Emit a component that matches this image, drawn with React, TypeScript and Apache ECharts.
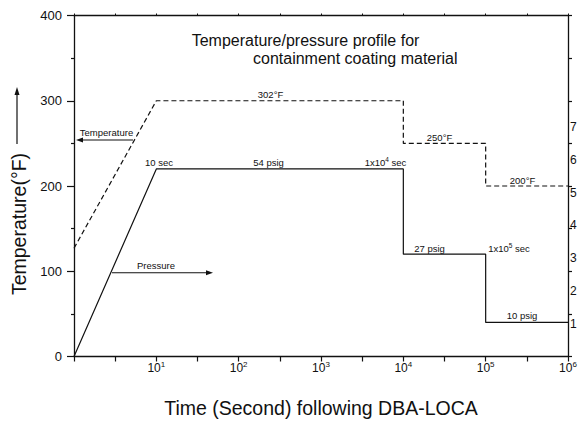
import React, { useEffect, useRef } from 'react';
import * as echarts from 'echarts';

// ---- data ----
const tempTime = [1, 10, 1e4, 1e4, 1e5, 1e5, 1e6];
const tempValues = [127, 300, 300, 250, 250, 200, 200];
const pressTime = [1, 10, 1e4, 1e4, 1e5, 1e5, 1e6];
const pressValues = [0, 220, 220, 120, 120, 40, 40];
const rightLabels = [1, 2, 3, 4, 5, 6, 7];

const FONT = 'Liberation Sans, Arial, Helvetica, sans-serif';
const INK = '#111';

const supRich = {
  b: { fontSize: 12, lineHeight: 14, fontFamily: FONT, color: INK },
  s: { fontSize: 8, lineHeight: 8, verticalAlign: 'top' as const, fontFamily: FONT, color: INK },
};
const annRich = {
  b: { fontSize: 9.5, lineHeight: 12, fontFamily: FONT, color: INK },
  s: { fontSize: 6.5, lineHeight: 6, verticalAlign: 'top' as const, fontFamily: FONT, color: INK },
};

function ann(text: string, x: number, y: number, rich = false) {
  return {
    type: 'text',
    x,
    y,
    style: rich
      ? { text, rich: annRich, align: 'center', verticalAlign: 'middle', fill: INK }
      : { text, font: `9.5px ${FONT}`, fill: INK, align: 'center', verticalAlign: 'middle' },
    silent: true,
  };
}

export default function App() {
  const ref = useRef<HTMLDivElement>(null);
  useEffect(() => {
    if (!ref.current) return;
    const chart = echarts.init(ref.current, undefined, { renderer: 'svg' });
    const lineStyleAxis = { color: INK, width: 1.3 };
    const option: any = {
      animation: false,
      backgroundColor: '#fff',
      textStyle: { fontFamily: FONT },
      grid: { left: 74, right: 13, top: 15.5, bottom: 64.5, containLabel: false, outerBoundsMode: 'none' },
      xAxis: [
        {
          type: 'log',
          logBase: 10,
          min: 1,
          max: 1e6,
          splitNumber: 6,
          position: 'bottom',
          axisLine: { show: true, onZero: false, lineStyle: lineStyleAxis },
          axisTick: { show: false },
          splitLine: { show: false },
          axisLabel: {
            margin: 4,
            formatter: (v: number) => {
              const e = Math.round(Math.log10(v));
              return e === 0 ? '' : `{b|10}{s|${e}}`;
            },
            rich: supRich,
          },
          name: 'Time (Second) following DBA-LOCA',
          nameLocation: 'middle',
          nameGap: 41,
          nameTextStyle: { fontSize: 19.5, color: INK, fontFamily: FONT },
        },
        {
          type: 'value',
          min: 0,
          max: 6,
          interval: 0.5,
          position: 'bottom',
          axisLine: { show: false, onZero: false },
          axisTick: { show: true, inside: false, length: 5, lineStyle: { color: INK, width: 1.2 } },
          axisLabel: { show: false },
          splitLine: { show: false },
        },
        {
          type: 'value',
          min: 0,
          max: 6,
          interval: 0.5,
          position: 'top',
          axisLine: { show: true, onZero: false, lineStyle: lineStyleAxis },
          axisTick: { show: true, inside: false, length: 2, lineStyle: { color: INK, width: 1 } },
          axisLabel: { show: false },
          splitLine: { show: false },
        },
      ],
      yAxis: [
        {
          type: 'value',
          min: 0,
          max: 400,
          interval: 100,
          position: 'left',
          axisLine: { show: true, onZero: false, lineStyle: lineStyleAxis },
          axisTick: { show: true, inside: false, length: 7, lineStyle: { color: INK, width: 1.2 } },
          minorTick: { show: true, splitNumber: 2, length: 3, lineStyle: { color: INK, width: 1.2 } },
          splitLine: { show: false },
          axisLabel: { margin: 12, fontSize: 13, color: INK, fontFamily: FONT },
        },
        {
          type: 'value',
          min: 0,
          max: 400,
          interval: 50,
          position: 'right',
          axisLine: { show: true, onZero: false, lineStyle: lineStyleAxis },
          axisTick: { show: true, inside: false, length: 4, lineStyle: { color: INK, width: 1.2 } },
          axisLabel: { show: false },
          splitLine: { show: false },
        },
        {
          type: 'value',
          min: 0,
          max: 10.4,
          interval: 1,
          position: 'right',
          axisLine: { show: false, onZero: false },
          axisTick: { show: false },
          splitLine: { show: false },
          axisLabel: {
            margin: 2,
            fontSize: 12,
            color: INK,
            fontFamily: FONT,
            formatter: (v: number) => (rightLabels.includes(v) ? String(v) : ''),
          },
        },
      ],
      series: [
        {
          name: 'Temperature',
          type: 'line',
          xAxisIndex: 0,
          yAxisIndex: 0,
          data: tempTime.map((t, i) => [t, tempValues[i]]),
          symbol: 'none',
          lineStyle: { color: INK, width: 1.2, type: [5, 3] },
        },
        {
          name: 'Pressure',
          type: 'line',
          xAxisIndex: 0,
          yAxisIndex: 0,
          data: pressTime.map((t, i) => [t, pressValues[i]]),
          symbol: 'none',
          lineStyle: { color: INK, width: 1.2 },
        },
      ],
      graphic: [
        {
          type: 'text',
          x: 191.7,
          y: 40,
          style: { text: 'Temperature/pressure profile for', font: `16px ${FONT}`, fill: INK, verticalAlign: 'middle' },
        },
        {
          type: 'text',
          x: 253,
          y: 58,
          style: { text: 'containment coating material', font: `16px ${FONT}`, fill: INK, verticalAlign: 'middle' },
        },
        {
          type: 'text',
          x: 19,
          y: 224,
          rotation: Math.PI / 2,
          style: { text: 'Temperature(°F)', font: `19.5px ${FONT}`, fill: INK, align: 'center', verticalAlign: 'middle' },
        },
        { type: 'line', shape: { x1: 17, y1: 144, x2: 17, y2: 93 }, style: { stroke: INK, lineWidth: 1.2 } },
        { type: 'polygon', shape: { points: [[17, 87], [14.5, 95], [19.5, 95]] }, style: { fill: INK } },
        ann('302°F', 270.5, 94),
        ann('250°F', 439.5, 137),
        ann('200°F', 522.5, 180),
        ann('10 sec', 159, 162),
        ann('54 psig', 268.5, 162),
        ann('{b|1x10}{s|4}{b| sec}', 385.5, 162, true),
        ann('27 psig', 429.5, 248),
        ann('{b|1x10}{s|5}{b| sec}', 509, 248, true),
        ann('10 psig', 522, 315),
        ann('Temperature', 106.5, 132),
        { type: 'line', shape: { x1: 82, y1: 140, x2: 133, y2: 140 }, style: { stroke: INK, lineWidth: 1.1 } },
        { type: 'polygon', shape: { points: [[76, 140], [83, 137.5], [83, 142.5]] }, style: { fill: INK } },
        ann('Pressure', 156, 265),
        { type: 'line', shape: { x1: 112, y1: 272.7, x2: 207, y2: 272.7 }, style: { stroke: INK, lineWidth: 1.1 } },
        { type: 'polygon', shape: { points: [[213, 272.7], [206, 270.2], [206, 275.2]] }, style: { fill: INK } },
      ],
    };
    chart.setOption(option);
    return () => chart.dispose();
  }, []);
  return <div ref={ref} style={{ position: 'fixed', left: 0, top: 0, width: 581, height: 421 }} />;
}
